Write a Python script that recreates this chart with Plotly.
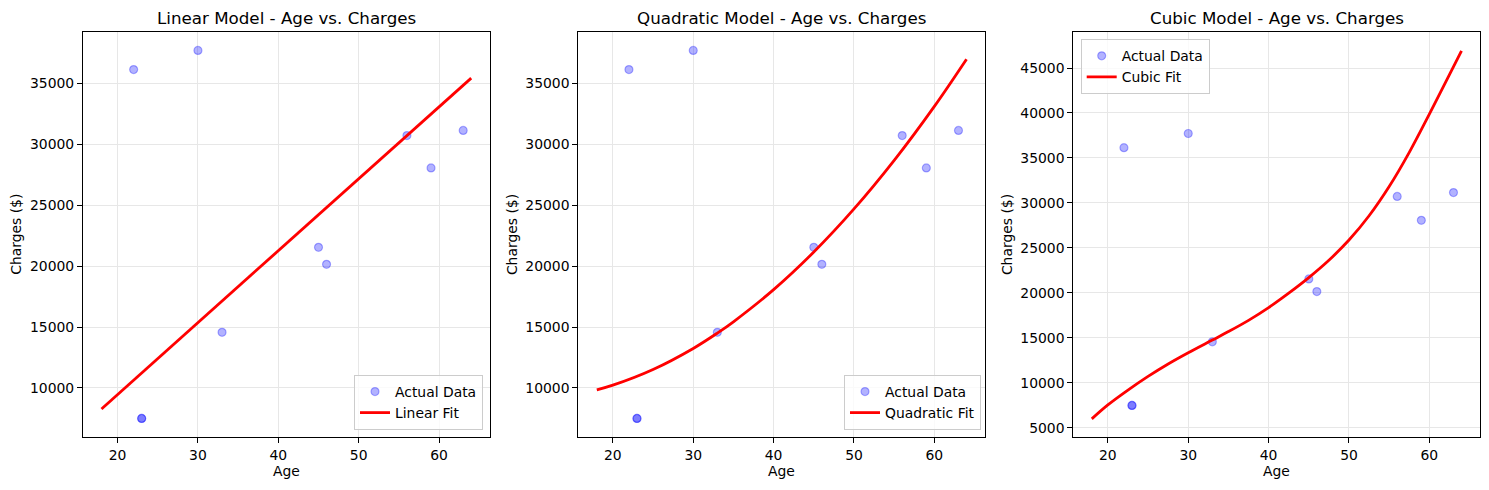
import plotly.graph_objects as go

# The page body has an 8px margin, so the figure is drawn 8px smaller
# and every reference pixel position is shifted by OFF.
OFF = 8
W, H = 1489 - 2 * OFF, 490 - 2 * OFF

# ---- data ----
ages = [22, 23, 23, 30, 33, 45, 46, 56, 59, 63]
charges = [36150, 7490, 7490, 37720, 14560, 21550, 20150, 30730, 28070, 31150]

linear_ages = [18, 64]
linear_fit = [8270, 35450]

quad_ages = [18, 20, 25, 30, 33, 35, 40, 45, 50, 55, 60, 64]
quad_fit = [9835, 10220, 11510, 13240, 14500, 15430, 18070, 21160, 24700, 28690, 33130, 37005]

cubic_ages = [18, 20, 22.5, 25, 27.5, 30, 33, 35, 37.5, 40, 42.5, 45, 47.5, 50,
              52.5, 55, 57.5, 60, 62.5, 64]
cubic_fit = [6000, 7550, 9200, 10720, 12100, 13350, 14760, 15700, 16950, 18370,
             19970, 21700, 23625, 25875, 28575, 31825, 35625, 39875, 44275, 46900]

titles = ["Linear Model - Age vs. Charges",
          "Quadratic Model - Age vs. Charges",
          "Cubic Model - Age vs. Charges"]
fit_names = ["Linear Fit", "Quadratic Fit", "Cubic Fit"]
x_ticks = [20, 30, 40, 50, 60]
y_ticks_a = [10000, 15000, 20000, 25000, 30000, 35000]
y_ticks_b = [5000, 10000, 15000, 20000, 25000, 30000, 35000, 40000, 45000]

fits = [(linear_ages, linear_fit), (quad_ages, quad_fit), (cubic_ages, cubic_fit)]

# ---- layout geometry (reference pixels) ----
panels = [(83.0, 489.7), (578.3, 985.0), (1073.3, 1480.0)]
top_px, bot_px = 32.3, 437.3
x_range = [15.7, 66.3]
y_ranges = [[5938, 39212], [5938, 39212], [3950, 48970]]
y_ticks = [y_ticks_a, y_ticks_a, y_ticks_b]


def px(x):
    return (x - OFF) / W


def py(y):
    return 1 - (y - OFF) / H


FONT = "DejaVu Sans"
fig = go.Figure()

legend_ids = ["legend", "legend2", "legend3"]
for i in range(3):
    xa = "x" if i == 0 else f"x{i+1}"
    ya = "y" if i == 0 else f"y{i+1}"
    fig.add_trace(go.Scatter(
        x=ages, y=charges, mode="markers", name="Actual Data",
        marker=dict(size=8, color="rgba(0,0,255,0.3)",
                    line=dict(width=1.2, color="rgba(0,0,255,0.3)")),
        xaxis=xa, yaxis=ya, legend=legend_ids[i]))
    fx, fy = fits[i]
    fig.add_trace(go.Scatter(
        x=fx, y=fy, mode="lines", name=fit_names[i],
        line=dict(color="red", width=2.8, shape="spline" if i > 0 else "linear"),
        xaxis=xa, yaxis=ya, legend=legend_ids[i]))

layout = dict(
    width=W, height=H,
    margin=dict(l=0, r=0, t=0, b=0),
    paper_bgcolor="white", plot_bgcolor="white",
    font=dict(family=FONT, size=13.9, color="black"),
    showlegend=True,
)

axis_common = dict(
    showline=True, linecolor="black", linewidth=1, mirror=True,
    ticks="outside", ticklen=5, tickwidth=1, tickcolor="black",
    showgrid=True, gridcolor="#e7e7e7", gridwidth=1,
    zeroline=False, automargin=False,
    tickfont=dict(family=FONT, size=13.9, color="black"),
)

for i in range(3):
    l, r = panels[i]
    xk = "xaxis" if i == 0 else f"xaxis{i+1}"
    yk = "yaxis" if i == 0 else f"yaxis{i+1}"
    layout[xk] = dict(axis_common, domain=[px(l), px(r)], range=x_range,
                      tickvals=x_ticks, anchor="y" if i == 0 else f"y{i+1}")
    layout[yk] = dict(axis_common, domain=[py(bot_px), py(top_px)], range=y_ranges[i],
                      tickvals=y_ticks[i], tickformat="d",
                      anchor="x" if i == 0 else f"x{i+1}")

legend_style = dict(bgcolor="rgba(255,255,255,0.8)", bordercolor="#cccccc", borderwidth=1,
                    font=dict(family=FONT, size=13.9, color="black"),
                    xref="paper", yref="paper")
layout["legend"] = dict(legend_style, x=px(483), y=py(430), xanchor="right", yanchor="bottom")
layout["legend2"] = dict(legend_style, x=px(981), y=py(430), xanchor="right", yanchor="bottom")
layout["legend3"] = dict(legend_style, x=px(1080.7), y=py(39.3), xanchor="left", yanchor="top")

annotations = []
for i in range(3):
    l, r = panels[i]
    cx = (l + r) / 2
    annotations.append(dict(text=titles[i], x=px(cx), y=py(18), xref="paper", yref="paper",
                            xanchor="center", yanchor="middle", showarrow=False,
                            font=dict(family=FONT, size=16.7, color="black")))
    annotations.append(dict(text="Age", x=px(cx), y=py(471), xref="paper", yref="paper",
                            xanchor="center", yanchor="middle", showarrow=False,
                            font=dict(family=FONT, size=13.9, color="black")))
    annotations.append(dict(text="Charges ($)", x=px(l - 67), y=py((top_px + bot_px) / 2),
                            xref="paper", yref="paper", xanchor="center", yanchor="middle",
                            textangle=-90, showarrow=False,
                            font=dict(family=FONT, size=13.9, color="black")))
layout["annotations"] = annotations

fig.update_layout(**layout)
fig.write_html("out.html")
